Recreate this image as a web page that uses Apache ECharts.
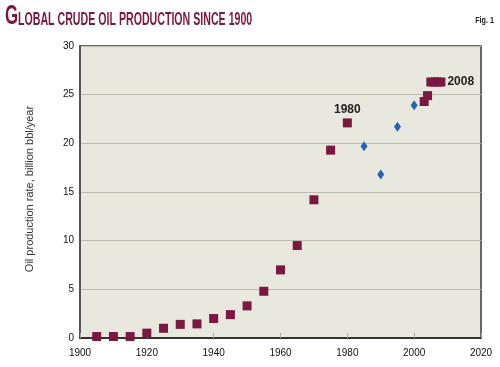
<!DOCTYPE html>
<html><head><meta charset="utf-8">
<script src="https://cdn.jsdelivr.net/npm/echarts@6/dist/echarts.min.js"></script>
<style>html,body{margin:0;padding:0;background:#fff}#c{width:500px;height:367px}</style>
</head><body><div id="c"></div>
<script>
// Data
const squareYears  = [1905,1910,1915,1920,1925,1930,1935,1940,1945,1950,1955,1960,1965,1970,1975,1980,2003,2004,2005,2006,2007,2008];
const squareValues = [0.15,0.15,0.15,0.5,1.0,1.4,1.45,2.0,2.4,3.3,4.8,7.0,9.5,14.2,19.3,22.1,24.3,24.9,26.3,26.3,26.3,26.3];
const diamondYears  = [1985,1990,1995,2000];
const diamondValues = [19.7,16.8,21.7,23.9];
const xTicks = [1900,1920,1940,1960,1980,2000,2020];
const yTicks = [0,5,10,15,20,25,30];
const labelledYears = {1980:'top', 2008:'right'};
const titleFirst = 'G';
const titleRest = 'LOBAL CRUDE OIL PRODUCTION SINCE 1900';
const figLabel = 'Fig. 1';
const yName = 'Oil production rate, billion bbl/year';

const maroon = '#7a1842';
const blue = '#2763b3';

const sqData = squareYears.map((y,i)=>{
  const d = {value:[y, squareValues[i]]};
  if (labelledYears[y]) {
    d.label = {show:true, formatter:String(y), position:labelledYears[y],
      distance: labelledYears[y]==='top'?3:2,
      fontFamily:'Liberation Sans', fontWeight:'bold', fontSize:12, color:'#222'};
  }
  return d;
});
const dmData = diamondYears.map((y,i)=>[y, diamondValues[i]]);

const chart = echarts.init(document.getElementById('c'), null, {renderer:'canvas'});
chart.setOption({
  animation:false,
  backgroundColor:'#ffffff',
  grid:{left:80, right:19, top:46, bottom:29, show:true, backgroundColor:'#e8e8df', borderColor:'#3a3a3a', borderWidth:1.5},
  xAxis:{type:'value', min:xTicks[0], max:xTicks[xTicks.length-1], interval:20,
    axisLine:{show:true, lineStyle:{color:'#333', width:2}},
    axisTick:{show:true, inside:true, length:5, lineStyle:{color:'#aaa9a0', width:1}},
    splitLine:{show:false},
    axisLabel:{margin:10, fontFamily:'Liberation Sans', fontSize:10, color:'#111', formatter:v=>String(v)}},
  yAxis:{type:'value', min:yTicks[0], max:yTicks[yTicks.length-1], interval:5,
    axisLine:{show:true, lineStyle:{color:'#555', width:2}},
    axisTick:{show:false},
    splitLine:{show:true, lineStyle:{color:'#bcbcac', width:1.2}},
    axisLabel:{margin:6, fontFamily:'Liberation Sans', fontSize:10, color:'#111'}},
  series:[
    {type:'scatter', symbol:'rect', symbolSize:9, data:sqData, z:3,
     itemStyle:{color:maroon, opacity:1}},
    {type:'scatter', symbol:'diamond', symbolSize:[7,10], data:dmData, z:3,
     itemStyle:{color:blue, opacity:1}}
  ],
  graphic:[
    {type:'text', x:5, y:17, scaleX:0.62, style:{text:titleFirst, fontFamily:'Liberation Sans', fontWeight:'bold', fontSize:27, fill:maroon, verticalAlign:'middle', align:'left'}},
    {type:'text', x:18, y:20, scaleX:0.59, style:{text:titleRest, fontFamily:'Liberation Sans', fontWeight:'bold', fontSize:18, fill:maroon, verticalAlign:'middle', align:'left'}},
    {type:'text', x:494, y:21, scaleX:0.8, style:{text:figLabel, fontFamily:'Liberation Sans', fontWeight:'bold', fontSize:9, fill:'#222', verticalAlign:'middle', align:'right'}},
    {type:'text', x:30, y:189, rotation:Math.PI/2, scaleX:1.0, style:{text:yName, fontFamily:'Liberation Sans', fontSize:11, fill:'#333', verticalAlign:'middle', align:'center'}}
  ]
});
</script></body></html>
